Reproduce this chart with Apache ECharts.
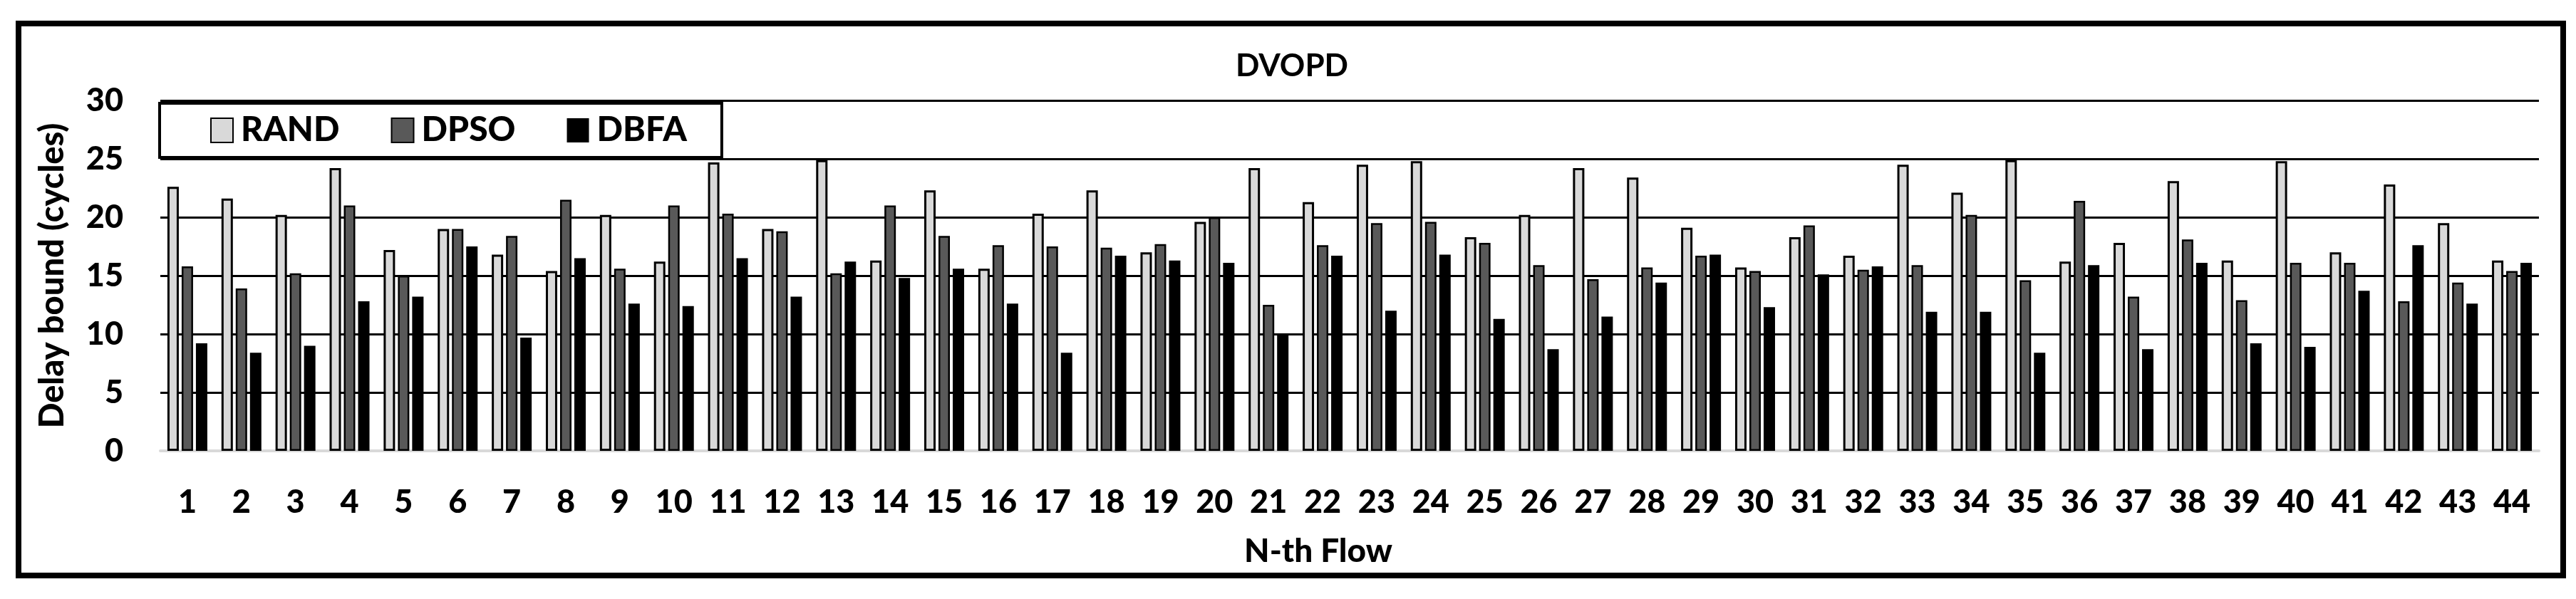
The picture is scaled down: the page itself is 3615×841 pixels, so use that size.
<!DOCTYPE html>
<html>
<head>
<meta charset="utf-8">
<script src="https://cdn.jsdelivr.net/npm/echarts@6/dist/echarts.min.js"></script>
<style>
html,body{margin:0;padding:0;background:#fff;}
#chart{width:3615px;height:841px;}
</style>
</head>
<body>
<div id="chart"></div>
<script>
var categories = [];
for (var i = 1; i <= 44; i++) categories.push(String(i));

var rand = [22.6,21.6,20.2,24.2,17.2,19.0,16.8,15.4,20.2,16.2,24.7,19.0,24.9,16.3,22.3,15.6,20.3,22.3,17.0,19.6,24.2,21.3,24.5,24.8,18.3,20.2,24.2,23.4,19.1,15.7,18.3,16.7,24.5,22.1,24.9,16.2,17.8,23.1,16.3,24.8,17.0,22.8,19.5,16.3];
var dpso = [15.8,13.9,15.2,21.0,15.0,19.0,18.4,21.5,15.6,21.0,20.3,18.8,15.2,21.0,18.4,17.6,17.5,17.4,17.7,20.0,12.5,17.6,19.5,19.6,17.8,15.9,14.7,15.7,16.7,15.4,19.3,15.5,15.9,20.2,14.6,21.4,13.2,18.1,12.9,16.1,16.1,12.8,14.4,15.4];
var dbfa = [9.2,8.4,9.0,12.8,13.2,17.5,9.7,16.5,12.6,12.4,16.5,13.2,16.2,14.8,15.6,12.6,8.4,16.7,16.3,16.1,9.9,16.7,12.0,16.8,11.3,8.7,11.5,14.4,16.8,12.3,15.1,15.8,11.9,11.9,8.4,15.9,8.7,16.1,9.2,8.9,13.7,17.6,12.6,16.1];
var yTicks = [0, 5, 10, 15, 20, 25, 30];

var FONT = 'Lato';
var W = 900;
var chart = echarts.init(document.getElementById('chart'), null, {renderer: 'canvas'});
chart.setOption({
  backgroundColor: '#ffffff',
  animation: false,
  textStyle: {fontFamily: FONT},
  title: {
    text: 'DVOPD',
    left: 1808, top: 66,
    textAlign: 'center',
    textStyle: {fontFamily: FONT, fontWeight: 'bold', fontSize: 44, color: '#000'}
  },
  graphic: [{
    type: 'rect',
    shape: {x: 26, y: 33, width: 3571, height: 775},
    style: {fill: 'none', stroke: '#000', lineWidth: 8},
    silent: true, z: 100
  }],
  legend: {
    left: 224, top: 145,
    orient: 'horizontal',
    backgroundColor: '#fff',
    borderColor: '#000',
    borderWidth: 4,
    padding: [14, 49, 14, 71],
    itemWidth: 31, itemHeight: 34,
    itemGap: 72,
    icon: 'rect',
    textStyle: {fontFamily: FONT, fontWeight: W, fontSize: 48, color: '#000', padding: [0,0,0,6]},
    data: ['RAND', 'DPSO', 'DBFA']
  },
  grid: {left: 225, right: 52, top: 141, bottom: 208, containLabel: false},
  xAxis: {
    type: 'category',
    data: categories,
    name: 'N-th Flow',
    nameLocation: 'middle',
    nameGap: 118,
    nameTextStyle: {fontFamily: FONT, fontWeight: W, fontSize: 46, color: '#000', padding: [0, 88, 0, 0]},
    axisLine: {show: true, lineStyle: {color: '#d9d9d9', width: 4}},
    axisTick: {show: false},
    axisLabel: {interval: 0, margin: 50, fontFamily: FONT, fontWeight: W, fontSize: 45, color: '#000'},
    splitLine: {show: false}
  },
  yAxis: {
    type: 'value',
    min: 0, max: 30, interval: 5,
    name: 'Delay bound (cycles)',
    nameLocation: 'middle',
    nameRotate: 90,
    nameGap: 128,
    nameTextStyle: {fontFamily: FONT, fontWeight: W, fontSize: 47, color: '#000'},
    axisLine: {show: false},
    axisTick: {show: false},
    axisLabel: {margin: 52, fontFamily: FONT, fontWeight: W, fontSize: 45, color: '#000',
      formatter: function (v) { return yTicks.indexOf(v) >= 0 ? String(v) : ''; }},
    splitLine: {show: true, showMinLine: false, lineStyle: {color: '#000', width: 3}}
  },
  series: [
    {name: 'RAND', type: 'bar', data: rand, barWidth: 16, barGap: '25%',
     itemStyle: {color: '#d9d9d9', borderColor: '#000', borderWidth: 3}},
    {name: 'DPSO', type: 'bar', data: dpso, barWidth: 16, barGap: '25%',
     itemStyle: {color: '#595959', borderColor: '#000', borderWidth: 2.5}},
    {name: 'DBFA', type: 'bar', data: dbfa, barWidth: 16, barGap: '25%',
     itemStyle: {color: '#000000', borderWidth: 0}}
  ]
});
</script>
</body>
</html>
